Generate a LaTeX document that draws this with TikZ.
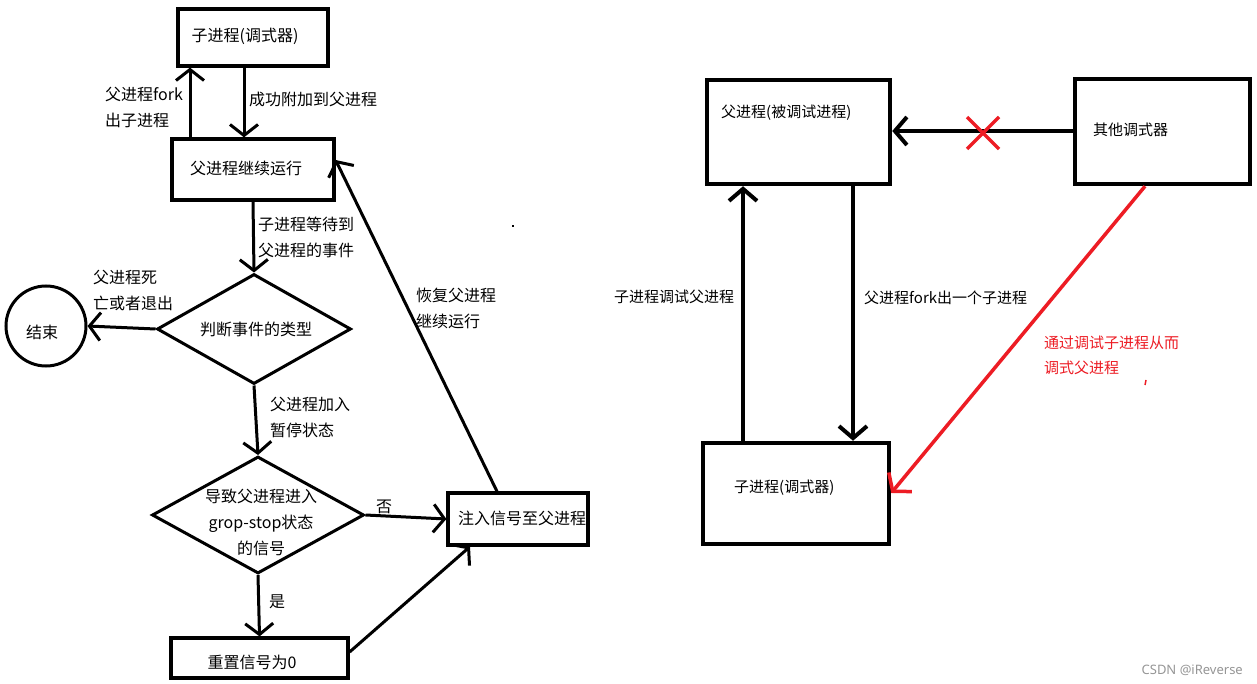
\documentclass[tikz,border=0pt]{standalone}
\usepackage{fontspec}
\setmainfont{Noto Sans CJK SC}
\newfontfamily\wmfont{Noto Sans}
\usetikzlibrary{arrows.meta,shapes.geometric,calc}
\definecolor{pred}{RGB}{237,28,36}
\definecolor{wmgray}{RGB}{150,150,150}
\begin{document}
\begin{tikzpicture}[x=1pt,y=-1pt,
  txt/.style={inner sep=0pt,font=\fontsize{16}{26}\selectfont,align=left},
  rtxt/.style={inner sep=0pt,font=\fontsize{15}{25}\selectfont,align=left},
  lbox/.style={draw,line width=3.2pt,inner sep=0pt},
  rbox/.style={draw,line width=4.5pt,inner sep=0pt},
  ldiam/.style={draw,line width=3pt,diamond,inner sep=0pt},
  larr/.style={line width=3pt,-{Straight Barb[length=11pt,width=28pt]}},
  rarr/.style={line width=4pt,-{Straight Barb[length=12pt,width=28pt]}},
  redarr/.style={line width=3.5pt,pred,-{Straight Barb[length=12pt,width=30pt]}},
]
\useasboundingbox (0,0) rectangle (1257,684);
\fill[white] (0,0) rectangle (1257,684);

% ---------- left flowchart ----------
\node[txt] (At) at (245,36) {子进程(调式器)};
\node[lbox,minimum width=150pt,minimum height=57pt] (A) at (253,37.5) {};

\node[txt] (Bt) at (246,168) {父进程继续运行};
\node[lbox,minimum width=162pt,minimum height=61pt] (B) at (253,169.5) {};

\node[ldiam,minimum width=194pt,minimum height=110pt] (D1) at (254,329) {};
\node[txt] (D1t) at (256,329) {判断事件的类型};

\node[draw,circle,line width=3pt,minimum size=80pt,inner sep=0pt] (End) at (46,326) {};
\node[txt] (Endt) at (42,332) {结束};

\node[ldiam,minimum width=212pt,minimum height=117pt] (D2) at (258,515) {};
\node[txt,align=center] (D2t) at (261,522) {导致父进程进入\\grop-stop状态\\的信号};

\node[txt,anchor=west] (Ct) at (458,518) {注入信号至父进程};
\node[lbox,minimum width=140pt,minimum height=52pt] (C) at (518,519) {};

\node[txt] (Dt) at (252,662) {重置信号为0};
\node[lbox,minimum width=177pt,minimum height=40pt] (D) at (259.5,658) {};

% connectors left
\draw[larr] (B.north -| 190,0) -- (A.south -| 190,0);
\draw[larr] (A.south -| 244,0) -- (B.north -| 244,0);
\draw[larr] (B.south) -- (D1.north);
\draw[larr] (D1.west) -- (End.east);
\draw[larr] (D1.south) -- (D2.north);
\draw[larr] (D2.east) -- (C.west);
\draw[larr] (D2.south) -- (D.north);
\draw[larr] ([yshift=6pt]D.east) -- ([xshift=-48pt]C.south);
\draw[larr] ([xshift=-21pt]C.north) -- ([yshift=9.5pt]B.east);

% labels left
\node[txt,anchor=west] (l1) at (105,107) {父进程fork\\出子进程};
\node[txt,anchor=west] (l2) at (249,99) {成功附加到父进程};
\node[txt,anchor=west] (l3) at (258,237) {子进程等待到\\父进程的事件};
\node[txt,anchor=west] (l4) at (93,290) {父进程死\\亡或者退出};
\node[txt,anchor=west] (l5) at (270,417.5) {父进程加入\\暂停状态};
\node[txt] (l6) at (384,507) {否};
\node[txt] (l7) at (277,602) {是};
\node[txt,anchor=west] (l8) at (416,308) {恢复父进程\\继续运行};

% stray dot
\fill (512,225) rectangle (514,227);

% ---------- right diagram ----------
\node[rbox,minimum width=183pt,minimum height=104pt] (E) at (798.5,132) {};
\node[rtxt,anchor=west] (Et) at (721,113) {父进程(被调试进程)};

\node[rbox,minimum width=175pt,minimum height=105pt] (F) at (1162.5,131.5) {};
\node[rtxt,anchor=west] (Ft) at (1093,130) {其他调式器};

\node[rbox,minimum width=186pt,minimum height=101pt] (G) at (796,493.5) {};
\node[rtxt,anchor=west] (Gt) at (734,488) {子进程(调式器)};

\draw[rarr] (G.north -| 743,0) -- (E.south -| 743,0);
\draw[rarr] (E.south -| 853,0) -- (G.north -| 853,0);
\draw[rarr] (F.west |- 0,131) -- (E.east |- 0,131);
\draw[redarr] (F.south -| 1145,0) -- (G.east |- 0,493);

% red cross
\draw[pred,line width=3.5pt] (967,117) -- (999,149) (967,149) -- (999,117);

\node[rtxt,anchor=west] (r1) at (614,297) {子进程调试父进程};
\node[rtxt,anchor=west] (r2) at (864,298) {父进程fork出一个子进程};
\node[rtxt,anchor=west,text=pred] (r3) at (1044,355.5) {通过调试子进程从而\\调式父进程};

% stray red tick
\draw[pred,line width=1.5pt] (1146,380) -- (1145,385);

% watermark
\node[inner sep=0pt,anchor=east,text=wmgray,font=\wmfont\fontsize{13}{15}\selectfont] (wm) at (1243,670) {CSDN @iReverse};
\end{tikzpicture}
\end{document}
